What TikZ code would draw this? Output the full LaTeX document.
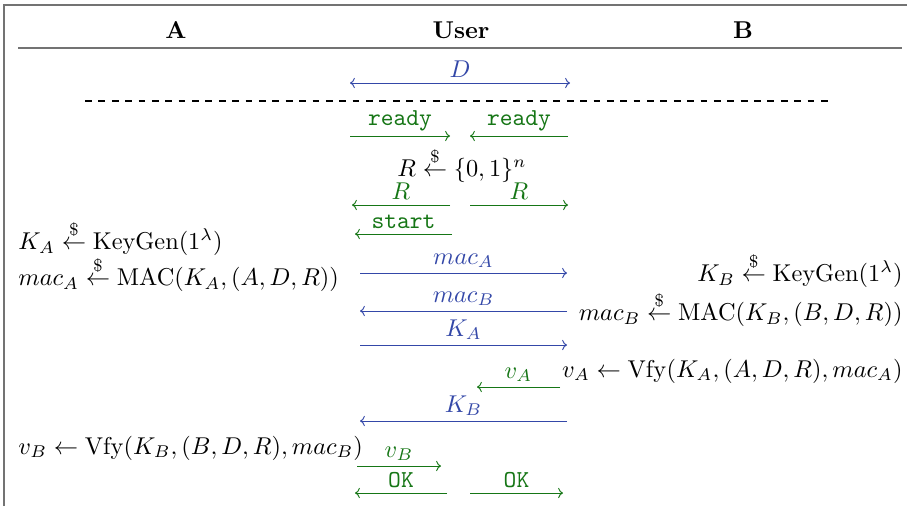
\documentclass[tikz,border=0pt]{standalone}
\usepackage{amsmath,amssymb}
\usepackage{xcolor}
\usepackage{tikz}
\usetikzlibrary{arrows.meta}

\definecolor{msgblue}{RGB}{52,72,168}
\definecolor{msggreen}{RGB}{22,118,22}
\newcommand{\rnd}{\mathrel{\overset{\$}{\leftarrow}}}

\begin{document}
\begin{tikzpicture}[
    x=0.411pt, y=-0.411pt,
    every node/.style={inner sep=0pt},
    party/.style={font=\bfseries},
    rule/.style={draw=black!55, line width=0.75pt},
    tip/.tip={To[length=2pt,width=4.2pt]},
    msg/.style={-tip, line width=0.4pt},
    bmsg/.style={msg, color=msgblue},
    gmsg/.style={msg, color=msggreen},
    lbl/.style={above=2pt, midway}
  ]
  \useasboundingbox (0,0) rectangle (907,506);

  % frame and header
  \draw[rule] (4,506) -- (4,5) -- (907,5);
  \node[party] (pa) at (176,30) {A};
  \node[party] (pu) at (461,30) {User};
  \node[party] (pb) at (743,30) {B};
  \draw[rule, line width=0.6pt] (18,48) -- (902,48);

  % shared data
  \coordinate (d1) at (350,83);  \coordinate (d2) at (570,83);
  \draw[bmsg, tip-tip] (d1) -- node[lbl] {$D$} (d2);
  \draw[line width=0.6pt, dash pattern=on 2.8pt off 2.7pt] (85,101) -- (828,101);

  % ready and challenge
  \coordinate (r1) at (350,136); \coordinate (r2) at (450,136);
  \coordinate (r3) at (568,136); \coordinate (r4) at (470,136);
  \draw[gmsg] (r1) -- node[lbl] {\texttt{ready}} (r2);
  \draw[gmsg] (r3) -- node[lbl] {\texttt{ready}} (r4);
  \node (samp) at (462,165) {$R \rnd \{0,1\}^n$};
  \coordinate (c1) at (450,205); \coordinate (c2) at (352,205);
  \coordinate (c3) at (470,205); \coordinate (c4) at (568,205);
  \draw[gmsg] (c1) -- node[lbl] {$R$} (c2);
  \draw[gmsg] (c3) -- node[lbl] {$R$} (c4);
  \coordinate (s1) at (452,234); \coordinate (s2) at (355,234);
  \draw[gmsg] (s1) -- node[lbl] {\texttt{start}} (s2);

  % MACs
  \node[anchor=west] (kga) at (18,238) {$K_A \rnd \mathrm{KeyGen}(1^\lambda)$};
  \node[anchor=west] (maca) at (18,274) {$mac_A \rnd \mathrm{MAC}(K_A,(A,D,R))$};
  \node[anchor=east] (kgb) at (903,270) {$K_B \rnd \mathrm{KeyGen}(1^\lambda)$};
  \node[anchor=east] (macb) at (903,309) {$mac_B \rnd \mathrm{MAC}(K_B,(B,D,R))$};
  \coordinate (m1) at (360,273); \coordinate (m2) at (567,273);
  \coordinate (m3) at (567,311); \coordinate (m4) at (360,311);
  \coordinate (m5) at (360,345); \coordinate (m6) at (567,345);
  \draw[bmsg] (m1) -- node[lbl] {$mac_A$} (m2);
  \draw[bmsg] (m3) -- node[lbl] {$mac_B$} (m4);
  \draw[bmsg] (m5) -- node[lbl] {$K_A$} (m6);

  % verification
  \node[anchor=east] (vfa) at (903,371) {$v_A \leftarrow \mathrm{Vfy}(K_A,(A,D,R),mac_A)$};
  \coordinate (v1) at (560,387); \coordinate (v2) at (477,387);
  \draw[gmsg] (v1) -- node[lbl] {$v_A$} (v2);
  \coordinate (k1) at (567,421); \coordinate (k2) at (360,421);
  \draw[bmsg] (k1) -- node[lbl] {$K_B$} (k2);
  \node[anchor=west] (vfb) at (18,448) {$v_B \leftarrow \mathrm{Vfy}(K_B,(B,D,R),mac_B)$};
  \coordinate (v3) at (357,466); \coordinate (v4) at (441,466);
  \draw[gmsg] (v3) -- node[lbl] {$v_B$} (v4);

  % result
  \coordinate (o1) at (447,493); \coordinate (o2) at (355,493);
  \coordinate (o3) at (470,493); \coordinate (o4) at (563,493);
  \draw[gmsg] (o1) -- node[lbl] {\texttt{OK}} (o2);
  \draw[gmsg] (o3) -- node[lbl] {\texttt{OK}} (o4);
\end{tikzpicture}
\end{document}
